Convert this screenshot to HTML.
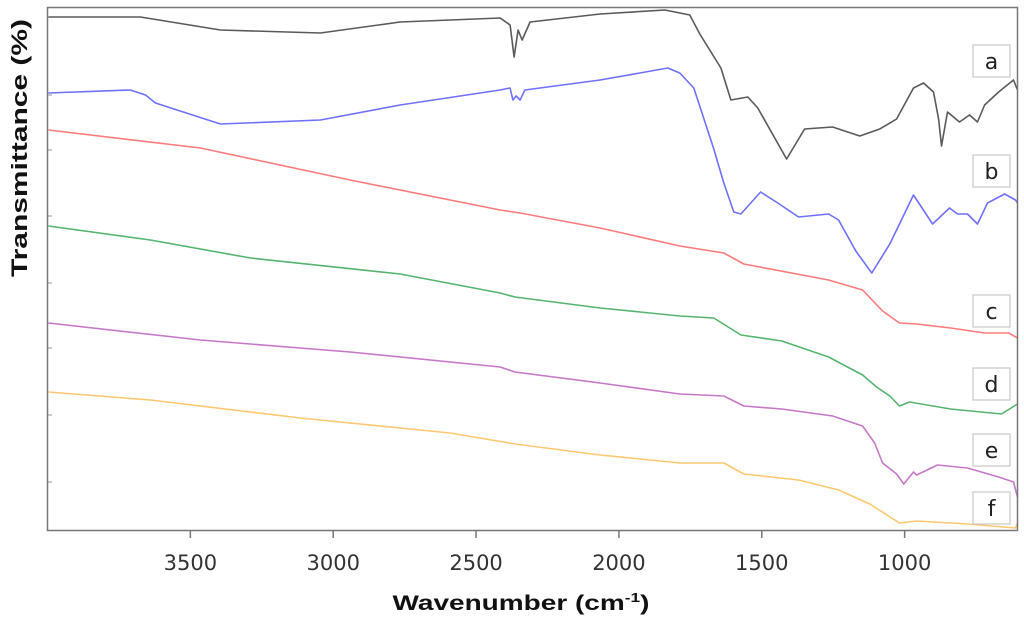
<!DOCTYPE html>
<html><head><meta charset="utf-8"><style>
html,body{margin:0;padding:0;background:#fff;width:1024px;height:622px;overflow:hidden}
svg{display:block}
</style></head><body>
<svg id="chart" width="1024" height="622" viewBox="0 0 1024 622" xmlns="http://www.w3.org/2000/svg">
<rect x="0" y="0" width="1024" height="622" fill="#fff"/>
<g id="ticks"></g>
<g id="series"></g>
<rect x="47.5" y="7.5" width="970" height="523" fill="none" stroke="#777" stroke-width="1.5"/>
<g id="labels"></g>
<text x="521" y="610" text-anchor="middle" font-family="Liberation Sans, sans-serif" font-weight="bold" font-size="21" textLength="257" lengthAdjust="spacingAndGlyphs" fill="#111">Wavenumber (cm<tspan font-size="13" dy="-8">-1</tspan><tspan dy="8">)</tspan></text>
<text transform="translate(27,148) rotate(-90)" text-anchor="middle" font-family="Liberation Sans, sans-serif" font-weight="bold" font-size="22" textLength="258" lengthAdjust="spacingAndGlyphs" fill="#111">Transmittance  (%)</text>
</svg>
<script>
const xTicks = [3500, 3000, 2500, 2000, 1500, 1000];
const seriesNames = ['a','b','c','d','e','f'];
const seriesColors = ['#5a5a5a','#7070ff','#ff7b7b','#55b56e','#c878c8','#ffc870'];
const aWn = [3997,3675,3395,3045,2766,2416,2381,2367,2353,2339,2311,2066,1839,1752,1717,1643,1608,1549,1514,1413,1350,1252,1157,1087,1028,969,934,899,881,871,850,808,773,745,720,671,619,605];
const aVal = [513,513,500,497,508,512,505,473,500,490,508,516,520,515,496,462,430,433,422,371,401,403,394,401,411,442,447,438,411,384,418,408,415,408,425,438,450,440];
const bWn = [3997,3710,3657,3622,3395,3045,2766,2416,2381,2371,2360,2346,2329,2066,1927,1829,1787,1738,1668,1633,1598,1573,1504,1444,1371,1266,1231,1171,1115,1052,969,902,843,815,780,745,710,650,612,605];
const bVal = [437,440,435,427,406,410,425,440,442,430,434,430,440,450,457,462,457,442,381,347,318,316,338,327,313,316,310,279,257,286,335,306,322,316,316,306,327,336,330,327];
const cWn = [3997,3465,2941,2416,2346,2066,1787,1633,1563,1266,1147,1077,1018,958,839,720,636,605];
const cVal = [400,382,350,320,317,302,284,277,266,250,240,219,207,206,202,197,197,192];
const dWn = [3997,3640,3290,2766,2416,2364,2066,1787,1668,1573,1430,1266,1147,1098,1052,1018,983,839,661,605];
const dVal = [304,290,272,256,237,233,222,214,212,195,189,173,155,143,134,124,128,121,116,126];
const eWn = [3997,3465,2941,2416,2364,2066,1787,1633,1563,1430,1252,1147,1105,1077,1028,1003,969,958,885,780,671,619,605];
const eVal = [207,190,178,163,158,147,136,134,124,121,114,104,87,67,56,46,58,55,65,62,53,48,33];
const fWn = [3997,3640,3115,2591,2364,2066,1787,1633,1563,1371,1231,1122,1018,958,780,612,605];
const fVal = [138,130,112,97,86,75,67,67,56,50,40,26,7,9,6,2,7];
const allWn = [aWn,bWn,cWn,dWn,eWn,fWn];
const allVal = [aVal,bVal,cVal,dVal,eVal,fVal];
const labelCenters = [61,171,311,384,450,508];

const X0=47.5, X1=1017.5, WN0=4000, WN1=605;
function xs(w){return X0+(WN0-w)*(X1-X0)/(WN0-WN1);}
function ys(v){return 530-v;}
const NS='http://www.w3.org/2000/svg';
const tg=document.getElementById('ticks');
xTicks.forEach(t=>{
  const l=document.createElementNS(NS,'line');
  l.setAttribute('x1',xs(t));l.setAttribute('x2',xs(t));l.setAttribute('y1',530);l.setAttribute('y2',538);
  l.setAttribute('stroke','#777');l.setAttribute('stroke-width','1.5');
  
  
  tg.appendChild(l);
  const tx=document.createElementNS(NS,'text');
  tx.setAttribute('x',xs(t));tx.setAttribute('y',570);tx.setAttribute('text-anchor','middle');
  tx.setAttribute('font-family','DejaVu Sans, Liberation Sans, sans-serif');tx.setAttribute('font-size','21');
  tx.setAttribute('fill','#333');tx.textContent=t;
  
  
  tg.appendChild(tx);
});
[95,150,216,283,348,415,482].forEach(y=>{
  const l=document.createElementNS(NS,'line');
  l.setAttribute('x1',48);l.setAttribute('x2',52);l.setAttribute('y1',y);l.setAttribute('y2',y);
  l.setAttribute('stroke','#999');l.setAttribute('stroke-width','1');
  
  
  tg.appendChild(l);
});
const sg=document.getElementById('series');
allWn.forEach((wn,i)=>{
  const pts=wn.map((w,j)=>xs(w).toFixed(1)+','+ys(allVal[i][j]).toFixed(1)).join(' ');
  const p=document.createElementNS(NS,'polyline');
  p.setAttribute('points',pts);p.setAttribute('fill','none');
  p.setAttribute('stroke',seriesColors[i]);p.setAttribute('stroke-width','1.6');
  p.setAttribute('stroke-linejoin','round');
  
  
  sg.appendChild(p);
});
const lg=document.getElementById('labels');
seriesNames.forEach((n,i)=>{
  const r=document.createElementNS(NS,'rect');
  r.setAttribute('x',973);r.setAttribute('y',labelCenters[i]-16);r.setAttribute('width',37);r.setAttribute('height',32);
  r.setAttribute('fill','#fff');r.setAttribute('stroke','#c8c8c8');r.setAttribute('stroke-width','1.2');
  
  
  lg.appendChild(r);
  const t=document.createElementNS(NS,'text');
  t.setAttribute('x',991.5);t.setAttribute('y',labelCenters[i]+8);t.setAttribute('text-anchor','middle');
  t.setAttribute('font-family','DejaVu Sans, Liberation Sans, sans-serif');t.setAttribute('font-size','22');
  t.setAttribute('fill','#222');t.textContent=n;
  
  
  lg.appendChild(t);
});
</script>
</body></html>
